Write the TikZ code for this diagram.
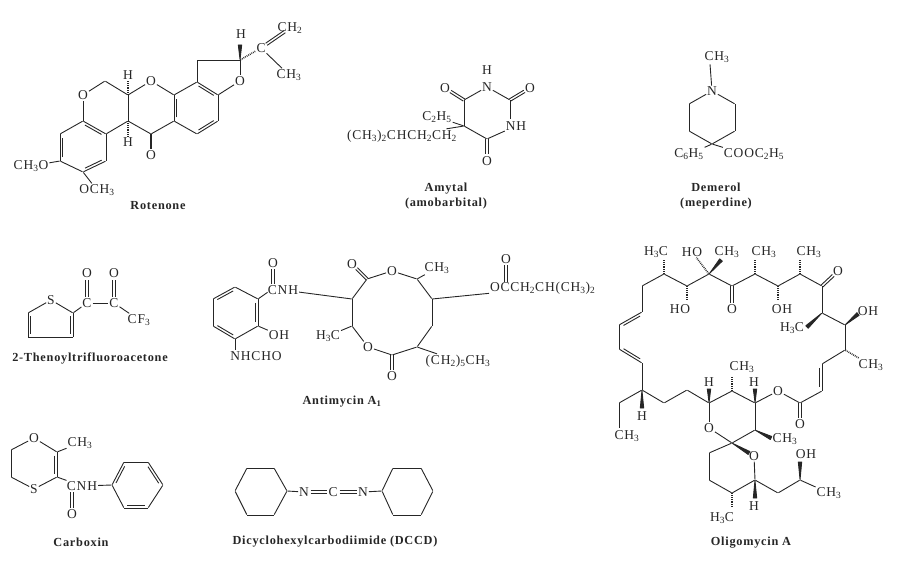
\documentclass[tikz,border=0pt]{standalone}
\usepackage{fontspec}
\setmainfont{Liberation Serif}
\usetikzlibrary{calc}
\newcommand{\low}[1]{\textsubscript{#1}}
\tikzset{
	atom/.style={inner sep=0pt,minimum size=0pt},
	lab/.style={inner sep=.6pt,font=\fontsize{13.5}{13.5}\selectfont\addfontfeature{LetterSpace=6}},
	molname/.style={inner sep=0pt,align=center,font=\fontsize{12.3}{15}\selectfont\bfseries\addfontfeature{LetterSpace=6}},
	dr/.style={to path={(\tikztostart) -- (\tikztotarget) ($(\tikztostart)!.14!(\tikztotarget)!2.6pt!-90:(\tikztotarget)$) -- ($(\tikztotarget)!.14!(\tikztostart)!2.6pt!90:(\tikztostart)$)}},
	dbo/.style={to path={($(\tikztostart)!1.3pt!90:(\tikztotarget)$) -- ($(\tikztotarget)!6.5pt!(\tikztostart)!1.3pt!-90:(\tikztostart)$) ($(\tikztostart)!1.3pt!-90:(\tikztotarget)$) -- ($(\tikztotarget)!6.5pt!(\tikztostart)!1.3pt!90:(\tikztostart)$)}},
	dbb/.style={to path={($(\tikztostart)!6.5pt!(\tikztotarget)!1.3pt!90:(\tikztotarget)$) -- ($(\tikztotarget)!6.5pt!(\tikztostart)!1.3pt!-90:(\tikztostart)$) ($(\tikztostart)!6.5pt!(\tikztotarget)!1.3pt!-90:(\tikztotarget)$) -- ($(\tikztotarget)!6.5pt!(\tikztostart)!1.3pt!90:(\tikztostart)$)}},
	wdg/.style={fill,to path={(\tikztostart) -- ($(\tikztotarget)!1.7pt!90:(\tikztostart)$) -- ($(\tikztotarget)!1.7pt!-90:(\tikztostart)$) -- cycle}},
	hsh/.style={line width=1.6pt,dash pattern=on .8pt off 1pt},
}
\begin{document}
\begin{tikzpicture}[x=1pt,y=-1pt,line width=.9pt,color=black!85,line join=round]
	\useasboundingbox (0,0) rectangle (899,561);
	
	% Rotenone
	\node[lab] (rO1) at (83,95) {O};
	\node[atom] (r2) at (105,81) {};
	\node[atom] (r3) at (128,95) {};
	\node[lab] (rH1) at (128,75) {H};
	\node[lab] (rO2) at (151,81) {O};
	\node[atom] (r4) at (174,95) {};
	\node[atom] (r5) at (197,82) {};
	\node[atom] (r6) at (197,60) {};
	\node[atom] (r7) at (240,60) {};
	\node[lab] (rH2) at (241,34) {H};
	\node[atom] (rW2) at (240,45) {};
	\node[lab] (rO3) at (240,81) {O};
	\node[atom] (r8) at (218,95) {};
	\node[atom] (r9) at (218,121) {};
	\node[atom] (r10) at (197,134) {};
	\node[atom] (r11) at (174,121) {};
	\node[atom] (r12) at (151,134) {};
	\node[lab] (rO4) at (151,155) {O};
	\node[atom] (r13) at (128,121) {};
	\node[lab] (rH3) at (128,142) {H};
	\node[atom] (r14) at (106,134) {};
	\node[atom] (r15) at (83,121) {};
	\node[atom] (r16) at (60,134) {};
	\node[atom] (r17) at (60,161) {};
	\node[atom] (r18) at (83,172) {};
	\node[atom] (r19) at (106,161) {};
	\node[lab] (rOa) at (31,166) {CH\low{3}O};
	\node[lab] (rOb) at (97,190) {OCH\low{3}};
	\node[lab] (rC) at (261,48) {C};
	\node[lab] (rCa) at (290,28) {CH\low{2}};
	\node[lab] (rCb) at (289,75) {CH\low{3}};
	\node[molname] (rotenone) at (158,206) {Rotenone};
	
	\path
	(rO1) edge (r2)
	(r2) edge (r3)
	(r3) edge (rO2)
	edge[hsh] (rH1)
	(rO2) edge (r4)
	(r4) edge (r5)
	(r5) edge (r6)
	edge[dr] (r8)
	(r6) edge (r7)
	(r7) edge (rO3)
	edge[wdg] (rW2)
	edge[hsh] (rC)
	(rO3) edge (r8)
	(r8) edge (r9)
	(r9) edge[dr] (r10)
	(r10) edge (r11)
	(r11) edge[dr] (r4)
	edge (r12)
	(r12) edge (r13)
	edge[line width=2pt] (rO4)
	(r13) edge (r3)
	edge (r14)
	edge[hsh] (rH3)
	(r15) edge[dr] (r14)
	edge (rO1)
	edge (r16)
	(r17) edge[dr] (r16)
	edge (r18)
	edge (rOa)
	(r19) edge[dr] (r18)
	edge (r14)
	(r18) edge (rOb)
	(rC) edge[dbb] (rCa)
	edge (rCb);
	
	% Amytal
	\node[lab] (mH) at (487,70) {H};
	\node[lab] (mN1) at (487,87) {N};
	\node[atom] (m2) at (510,100) {};
	\node[lab] (mO1) at (530,88) {O};
	\node[lab] (mN3) at (516,126) {NH};
	\node[atom] (mN) at (510,119) {};
	\node[atom] (m4) at (487,139) {};
	\node[lab] (mO2) at (487,161) {O};
	\node[atom] (m5) at (464,126) {};
	\node[atom] (m6) at (464,100) {};
	\node[lab] (mO3) at (445,88) {O};
	\node[lab] (mEt) at (437,117) {C\low{2}H\low{5}};
	\node[lab] (mAm) at (402,136) {(CH\low{3})\low{2}CHCH\low{2}CH\low{2}};
	\node[molname] (amytal) at (446,196) {Amytal\\(amobarbital)};
	
	\path
	(mN1) edge (m2)
	edge (m6)
	(m2) edge[dbo] (mO1)
	edge (mN)
	(mN3) edge (m4)
	(m4) edge[dbo] (mO2)
	edge (m5)
	(m5) edge (m6)
	edge (mEt)
	edge (mAm)
	(m6) edge[dbo] (mO3);
	
	% Demerol
	\node[lab] (dCH) at (717,57) {CH\low{3}};
	\node[atom] (dC) at (710,64) {};
	\node[lab] (dN) at (712,91) {N};
	\node[atom] (d2) at (689,104) {};
	\node[atom] (d3) at (689,131) {};
	\node[atom] (d4) at (712,144) {};
	\node[atom] (d5) at (735,131) {};
	\node[atom] (d6) at (735,104) {};
	\node[lab] (dPh) at (689,154) {C\low{6}H\low{5}};
	\node[lab] (dEs) at (754,154) {COOC\low{2}H\low{5}};
	\node[molname] (demerol) at (716,196) {Demerol\\(meperdine)};
	
	\path
	(dN) edge (dC)
	edge (d2)
	edge (d6)
	(d2) edge (d3)
	(d3) edge (d4)
	(d4) edge (d5)
	edge (dPh.north east)
	edge (dEs.north west)
	(d5) edge (d6);
	
	% 2-Thenoyltrifluoroacetone
	\node[lab] (tS) at (51,300) {S};
	\node[atom] (t1) at (73,313) {};
	\node[atom] (t2) at (73,337) {};
	\node[atom] (t3) at (28,337) {};
	\node[atom] (t4) at (28,313) {};
	\node[lab] (tC1) at (87,303) {C};
	\node[lab] (tO1) at (87,273) {O};
	\node[lab] (tC2) at (114,303) {C};
	\node[lab] (tO2) at (114,273) {O};
	\node[lab] (tF) at (139,320) {CF\low{3}};
	\node[molname] (thenoyl) at (90,358) {2-Thenoyltrifluoroacetone};
	
	\path
	(tS) edge (t1)
	edge (t4)
	(t1) edge[dr] (t2)
	edge (tC1)
	(t2) edge (t3)
	(t3) edge[dr] (t4)
	(tC1) edge[dbb] (tO1)
	edge (tC2)
	(tC2) edge[dbb] (tO2)
	edge (tF);
	
	% Antimycin A1
	\node[lab] (aO1) at (273,263) {O};
	\node[lab] (aNH) at (283,290) {CNH};
	\node[atom] (aC) at (273,284) {};
	\node[atom] (aB) at (268,292) {};
	\node[atom] (a1) at (258,299) {};
	\node[atom] (a2) at (235,287) {};
	\node[atom] (a3) at (213,299) {};
	\node[atom] (a4) at (213,326) {};
	\node[atom] (a5) at (235,339) {};
	\node[atom] (a6) at (258,326) {};
	\node[lab] (aOH) at (279,335) {OH};
	\node[lab] (aF) at (256,356) {NHCHO};
	\node[atom] (aN) at (235,350) {};
	\node[atom] (b1) at (352,299) {};
	\node[atom] (b2) at (367,279) {};
	\node[lab] (bO1) at (352,264) {O};
	\node[lab] (bO2) at (392,271) {O};
	\node[atom] (b3) at (417,279) {};
	\node[lab] (bMe) at (437,268) {CH\low{3}};
	\node[atom] (b4) at (432,299) {};
	\node[atom] (b5) at (432,326) {};
	\node[atom] (b6) at (417,347) {};
	\node[atom] (b7) at (392,355) {};
	\node[lab] (bO3) at (392,376) {O};
	\node[lab] (bO4) at (368,347) {O};
	\node[atom] (b8) at (352,326) {};
	\node[lab] (bHC) at (328,336) {H\low{3}C};
	\node[lab] (bAl) at (458,361) {(CH\low{2})\low{5}CH\low{3}};
	\node[lab,anchor=west] (bEs) at (489,288) {OCCH\low{2}CH(CH\low{3})\low{2}};
	\node[atom] (bC) at (506,282) {};
	\node[lab] (bO5) at (506,259) {O};
	\node[molname] (antimycin) at (342,402) {Antimycin A\low{1}};
	
	\path
	(aC) edge[dbo] (aO1)
	(aB) edge (a1)
	(a1) edge[dr] (a6)
	edge (a2)
	(a3) edge[dr] (a2)
	edge (a4)
	(a5) edge[dr] (a4)
	edge (a6)
	edge (aN)
	(a6) edge (aOH)
	(aNH) edge (b1)
	(b1) edge (b2)
	edge (b8)
	(b2) edge[dbo] (bO1)
	edge (bO2)
	(bO2) edge (b3)
	(b3) edge (bMe)
	edge (b4)
	(b4) edge (b5)
	edge (bEs)
	(b5) edge (b6)
	(b6) edge (b7)
	edge (bAl)
	(b7) edge[dbo] (bO3)
	edge (bO4)
	(bO4) edge (b8)
	(b8) edge (bHC)
	(bC) edge[dbo] (bO5);
	
	% Carboxin
	\node[lab] (cO) at (34,438) {O};
	\node[atom] (c1) at (57,452) {};
	\node[lab] (cMe) at (80,443) {CH\low{3}};
	\node[atom] (c2) at (57,477) {};
	\node[lab] (cS) at (34,489) {S};
	\node[atom] (c3) at (11,477) {};
	\node[atom] (c4) at (11,450) {};
	\node[lab] (cNH) at (82,486) {CNH};
	\node[atom] (cC) at (72,492) {};
	\node[lab] (cO2) at (72,514) {O};
	\node[atom] (p1) at (112,485) {};
	\node[atom] (p2) at (124,462) {};
	\node[atom] (p3) at (148,462) {};
	\node[atom] (p4) at (163,485) {};
	\node[atom] (p5) at (148,508) {};
	\node[atom] (p6) at (124,508) {};
	\node[molname] (carboxin) at (81,542) {Carboxin};
	
	\path
	(cO) edge (c1)
	edge (c4)
	(c1) edge (cMe)
	edge[dr] (c2)
	(c2) edge (cS)
	edge (cNH)
	(cS) edge (c3)
	(c3) edge (c4)
	(cC) edge[dbo] (cO2)
	(cNH) edge (p1)
	(p1) edge[dr] (p2)
	edge (p6)
	(p2) edge (p3)
	(p3) edge[dr] (p4)
	(p4) edge (p5)
	(p5) edge[dr] (p6);
	
	% DCCD
	\node[atom] (l1) at (235,491) {};
	\node[atom] (l2) at (247,468) {};
	\node[atom] (l3) at (274,468) {};
	\node[atom] (l4) at (287,491) {};
	\node[atom] (l5) at (274,515) {};
	\node[atom] (l6) at (247,515) {};
	\node[lab] (eN1) at (304,492) {N};
	\node[lab] (eC) at (333,492) {C};
	\node[lab] (eN2) at (363,492) {N};
	\node[atom] (h1) at (382,491) {};
	\node[atom] (h2) at (393,468) {};
	\node[atom] (h3) at (421,468) {};
	\node[atom] (h4) at (433,491) {};
	\node[atom] (h5) at (421,515) {};
	\node[atom] (h6) at (393,515) {};
	\node[molname] (dccd) at (335,542) {Dicyclohexylcarbodiimide (DCCD)};
	
	\path
	(l1) edge (l2)
	(l2) edge (l3)
	(l3) edge (l4)
	(l4) edge (l5)
	edge (eN1)
	(l5) edge (l6)
	(l6) edge (l1)
	(eN1) edge[dbb] (eC)
	(eC) edge[dbb] (eN2)
	(eN2) edge (h1)
	(h1) edge (h2)
	(h2) edge (h3)
	(h3) edge (h4)
	(h4) edge (h5)
	(h5) edge (h6)
	(h6) edge (h1);
	
	% Oligomycin A
	\node[atom] (o1) at (664,274) {};
	\node[atom] (o2) at (642,286) {};
	\node[atom] (o3) at (642,312) {};
	\node[atom] (o4) at (619,325) {};
	\node[atom] (o5) at (619,349) {};
	\node[atom] (o6) at (642,363) {};
	\node[atom] (o7) at (642,390) {};
	\node[atom] (o8) at (619,403) {};
	\node[atom] (o9) at (619,428) {};
	\node[atom] (o10) at (664,403) {};
	\node[atom] (o11) at (687,390) {};
	\node[atom] (o12) at (709,403) {};
	\node[lab] (o13) at (709,428) {O};
	\node[atom] (o14) at (732,443) {};
	\node[atom] (o15) at (732,391) {};
	\node[atom] (o16) at (755,403) {};
	\node[atom] (o17) at (755,430) {};
	\node[lab] (o18) at (778,391) {O};
	\node[atom] (o19) at (800,403) {};
	\node[lab] (o20) at (800,424) {O};
	\node[atom] (o21) at (822,391) {};
	\node[atom] (o22) at (822,364) {};
	\node[atom] (o23) at (845,350) {};
	\node[atom] (o24) at (845,325) {};
	\node[atom] (o25) at (822,313) {};
	\node[atom] (o26) at (822,286) {};
	\node[lab] (o27) at (838,271) {O};
	\node[atom] (o28) at (800,274) {};
	\node[atom] (o29) at (778,286) {};
	\node[atom] (o30) at (755,274) {};
	\node[atom] (o31) at (732,286) {};
	\node[lab] (o32) at (732,309) {O};
	\node[atom] (o33) at (709,274) {};
	\node[atom] (o34) at (687,286) {};
	\node[lab] (o35) at (754,456) {O};
	\node[atom] (o36) at (709,453) {};
	\node[atom] (o37) at (709,480) {};
	\node[atom] (o38) at (732,493) {};
	\node[atom] (o39) at (755,480) {};
	\node[atom] (o40) at (778,493) {};
	\node[atom] (o41) at (800,480) {};
	\node[lab] (oMe1) at (829,493) {CH\low{3}};
	\node[lab] (oT1) at (656,252) {H\low{3}C};
	\node[lab] (oT2) at (692,252) {HO};
	\node[lab] (oT3) at (727,252) {CH\low{3}};
	\node[lab] (oT4) at (764,252) {CH\low{3}};
	\node[lab] (oT5) at (809,252) {CH\low{3}};
	\node[atom] (oW1) at (664,259) {};
	\node[atom] (oW3) at (721,260) {};
	\node[atom] (oW4) at (755,259) {};
	\node[atom] (oW5) at (800,259) {};
	\node[lab] (oHO) at (680,309) {HO};
	\node[lab] (oOH) at (782,309) {OH};
	\node[atom] (oA) at (687,301) {};
	\node[atom] (oB) at (778,301) {};
	\node[lab] (oOH2) at (868,311) {OH};
	\node[atom] (oC) at (858,314) {};
	\node[lab] (oHC) at (792,328) {H\low{3}C};
	\node[atom] (oD) at (807,327) {};
	\node[lab] (oMe2) at (871,365) {CH\low{3}};
	\node[lab] (oEt) at (627,436) {CH\low{3}};
	\node[lab] (oH1) at (642,416) {H};
	\node[atom] (oE) at (642,408) {};
	\node[lab] (oH2) at (709,382) {H};
	\node[atom] (oF) at (709,389) {};
	\node[lab] (oH3) at (754,382) {H};
	\node[atom] (oG) at (755,389) {};
	\node[lab] (oMe3) at (742,367) {CH\low{3}};
	\node[atom] (oI) at (732,377) {};
	\node[lab] (oMe4) at (785,439) {CH\low{3}};
	\node[atom] (oJ) at (771,438) {};
	\node[atom] (oK) at (749,453) {};
	\node[lab] (oH4) at (754,506) {H};
	\node[atom] (oL) at (755,498) {};
	\node[lab] (oHC2) at (722,518) {H\low{3}C};
	\node[atom] (oM) at (732,508) {};
	\node[lab] (oOH3) at (806,454) {OH};
	\node[atom] (oN) at (800,462) {};
	\node[molname] (oligomycin) at (751,543) {Oligomycin A};
	
	\path
	(o1) edge (o2)
	edge[hsh] (oW1)
	(o2) edge (o3)
	(o4) edge[dr] (o3)
	edge (o5)
	(o6) edge[dr] (o5)
	edge (o7)
	(o7) edge (o8)
	edge (o10)
	edge[wdg] (oE)
	(o8) edge (o9)
	(o10) edge (o11)
	(o11) edge (o12)
	(o12) edge (o13)
	edge[wdg] (oF)
	edge (o15)
	(o13) edge (o14)
	(o14) edge (o17)
	edge[wdg] (oK)
	edge (o36)
	(o17) edge (o16)
	edge[wdg] (oJ)
	(o16) edge (o15)
	edge (o18)
	edge[wdg] (oG)
	(o15) edge[hsh] (oI)
	(o18) edge (o19)
	(o19) edge[dbo] (o20)
	edge (o21)
	(o22) edge[dr] (o21)
	edge (o23)
	(o23) edge (o24)
	edge[hsh] (oMe2)
	(o24) edge (o25)
	edge[wdg] (oC)
	(o25) edge (o26)
	edge[wdg] (oD)
	(o26) edge[dbo] (o27)
	edge (o28)
	(o28) edge (o29)
	edge[hsh] (oW5)
	(o29) edge (o30)
	edge[hsh] (oB)
	(o30) edge (o31)
	edge[hsh] (oW4)
	(o31) edge[dbo] (o32)
	edge (o33)
	(o33) edge (o34)
	edge[wdg] (oW3)
	edge[hsh] (oT2)
	(o34) edge (o1)
	edge[hsh] (oA)
	(o35) edge (o39)
	(o36) edge (o37)
	(o37) edge (o38)
	(o38) edge (o39)
	edge[hsh] (oM)
	(o39) edge (o40)
	edge[wdg] (oL)
	(o40) edge (o41)
	(o41) edge (oMe1)
	edge[wdg] (oN);
	
\end{tikzpicture}
\end{document}
